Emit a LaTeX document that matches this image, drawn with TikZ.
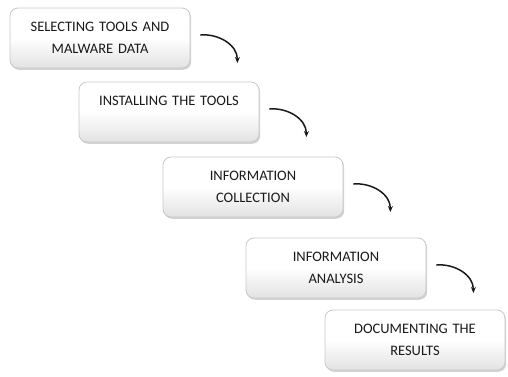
\documentclass[tikz,border=0pt]{standalone}
\usepackage{fontspec}
\setmainfont{Carlito}
\usepackage{xcolor}
\usetikzlibrary{arrows.meta,shadows,calc}
\definecolor{boxline}{HTML}{C8C8C8}
\definecolor{boxlow}{HTML}{E2E2E2}
\definecolor{ink}{HTML}{1A1A1A}
\tikzset{
  stepbox/.style={draw=boxline, line width=0.8pt, rounded corners=8pt,
    top color=white, bottom color=boxlow, middle color=white,
    drop shadow={shadow xshift=1.2pt, shadow yshift=-1.8pt, opacity=0.35, fill=gray},
    minimum width=180pt, minimum height=60pt, text width=172pt,
    align=center, font=\fontsize{14.5}{22}\selectfont, text=ink},
  flow/.style={draw=ink, line width=1.5pt, -{Stealth[length=6pt,width=5pt]}},
}

\begin{document}
\begin{tikzpicture}[x=1pt,y=-1pt]
  \useasboundingbox (0,0) rectangle (508,376);

  \node[stepbox] (sel)  at (100,38)  {SELECTING TOOLS AND\\MALWARE DATA};
  \node[stepbox] (inst) at (169,112) {INSTALLING THE TOOLS\\~};
  \node[stepbox] (coll) at (253,187) {INFORMATION\\COLLECTION};
  \node[stepbox] (anal) at (336,268) {INFORMATION\\ANALYSIS};
  \node[stepbox] (docu) at (415,340) {DOCUMENTING THE\\RESULTS};

  % curved arrows between the steps
  \foreach \a in {sel, inst, coll, anal}{
    \coordinate (\a-out) at ($(\a.east)+(10,-3)$);
    \coordinate (\a-in)  at ($(\a-out)+(37,28)$);
    \draw[flow] (\a-out) to[out=5, in=90] (\a-in);
  }
\end{tikzpicture}
\end{document}
